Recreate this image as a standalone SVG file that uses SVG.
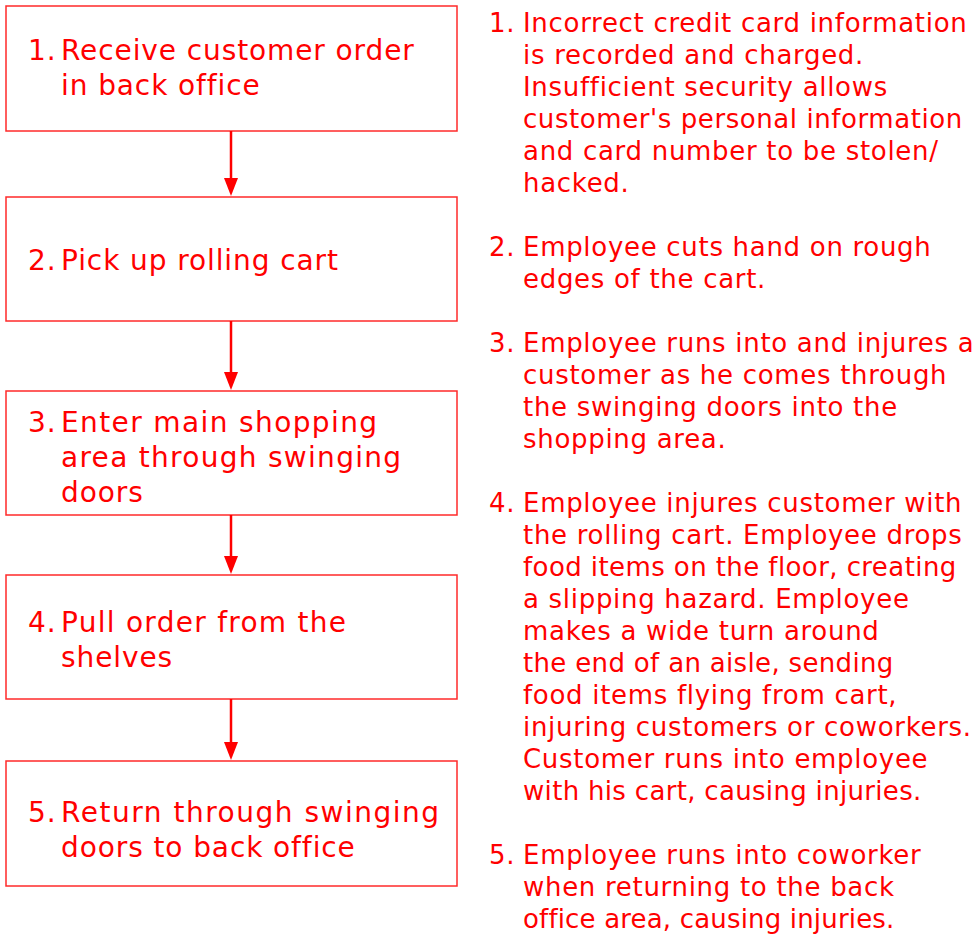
<svg xmlns="http://www.w3.org/2000/svg" width="974" height="934" viewBox="0 0 974 934">
  <defs>
    <style>
      .box { fill: #ffffff; stroke: #ff2a2a; stroke-width: 1.5; }
      .step { font-family: "DejaVu Sans", "Liberation Sans", sans-serif; font-size: 28px; letter-spacing: 0.9px; fill: #ff0000; }
      .risk { font-family: "DejaVu Sans", "Liberation Sans", sans-serif; font-size: 26px; letter-spacing: 0.7px; fill: #ff0000; }
      .conn { stroke: #ff0000; stroke-width: 2.5; fill: none; }
      .head { fill: #ff0000; }
    </style>
  </defs>
  <rect width="974" height="934" fill="#ffffff"/>

  <!-- process steps -->
  <g id="step1">
    <rect class="box" x="6" y="6" width="451" height="125"/>
    <text class="step" x="28" y="60">1.</text>
    <text class="step" x="61" y="60">Receive customer order</text>
    <text class="step" x="61" y="95">in back office</text>
  </g>
  <g id="step2">
    <rect class="box" x="6" y="197" width="451" height="124"/>
    <text class="step" x="28" y="270">2.</text>
    <text class="step" x="61" y="270">Pick up rolling cart</text>
  </g>
  <g id="step3">
    <rect class="box" x="6" y="391" width="451" height="124"/>
    <text class="step" x="28" y="432">3.</text>
    <text class="step" x="61" y="432" textLength="317" lengthAdjust="spacing">Enter main shopping</text>
    <text class="step" x="61" y="467" textLength="341" lengthAdjust="spacing">area through swinging</text>
    <text class="step" x="61" y="502">doors</text>
  </g>
  <g id="step4">
    <rect class="box" x="6" y="575" width="451" height="124"/>
    <text class="step" x="28" y="632">4.</text>
    <text class="step" x="61" y="632" textLength="286" lengthAdjust="spacing">Pull order from the</text>
    <text class="step" x="61" y="667">shelves</text>
  </g>
  <g id="step5">
    <rect class="box" x="6" y="761" width="451" height="125"/>
    <text class="step" x="28" y="822">5.</text>
    <text class="step" x="61" y="822" textLength="379" lengthAdjust="spacing">Return through swinging</text>
    <text class="step" x="61" y="857">doors to back office</text>
  </g>

  <!-- connectors -->
  <g id="connectors">
    <line class="conn" x1="231" y1="131" x2="231" y2="180"/>
    <path class="head" d="M224,178 L238,178 L231,196 Z"/>
    <line class="conn" x1="231" y1="321" x2="231" y2="374"/>
    <path class="head" d="M224,372 L238,372 L231,390 Z"/>
    <line class="conn" x1="231" y1="515" x2="231" y2="558"/>
    <path class="head" d="M224,556 L238,556 L231,574 Z"/>
    <line class="conn" x1="231" y1="699" x2="231" y2="744"/>
    <path class="head" d="M224,742 L238,742 L231,760 Z"/>
  </g>

  <!-- hazards for each step -->
  <g id="hazards">
    <text class="risk" x="489" y="32">1.</text>
    <text class="risk" x="523" y="32">Incorrect credit card information</text>
    <text class="risk" x="523" y="64">is recorded and charged.</text>
    <text class="risk" x="523" y="96">Insufficient security allows</text>
    <text class="risk" x="523" y="128" textLength="440" lengthAdjust="spacing">customer's personal information</text>
    <text class="risk" x="523" y="160">and card number to be stolen/</text>
    <text class="risk" x="523" y="192">hacked.</text>

    <text class="risk" x="489" y="256">2.</text>
    <text class="risk" x="523" y="256">Employee cuts hand on rough</text>
    <text class="risk" x="523" y="288">edges of the cart.</text>

    <text class="risk" x="489" y="352">3.</text>
    <text class="risk" x="523" y="352">Employee runs into and injures a</text>
    <text class="risk" x="523" y="384">customer as he comes through</text>
    <text class="risk" x="523" y="416">the swinging doors into the</text>
    <text class="risk" x="523" y="448">shopping area.</text>

    <text class="risk" x="489" y="512">4.</text>
    <text class="risk" x="523" y="512">Employee injures customer with</text>
    <text class="risk" x="523" y="544">the rolling cart. Employee drops</text>
    <text class="risk" x="523" y="576" textLength="434" lengthAdjust="spacing">food items on the floor, creating</text>
    <text class="risk" x="523" y="608">a slipping hazard. Employee</text>
    <text class="risk" x="523" y="640">makes a wide turn around</text>
    <text class="risk" x="523" y="672" textLength="371" lengthAdjust="spacing">the end of an aisle, sending</text>
    <text class="risk" x="523" y="704">food items flying from cart,</text>
    <text class="risk" x="523" y="736">injuring customers or coworkers.</text>
    <text class="risk" x="523" y="768">Customer runs into employee</text>
    <text class="risk" x="523" y="800" textLength="399" lengthAdjust="spacing">with his cart, causing injuries.</text>

    <text class="risk" x="489" y="864">5.</text>
    <text class="risk" x="523" y="864">Employee runs into coworker</text>
    <text class="risk" x="523" y="896">when returning to the back</text>
    <text class="risk" x="523" y="928" textLength="372" lengthAdjust="spacing">office area, causing injuries.</text>
  </g>
</svg>
